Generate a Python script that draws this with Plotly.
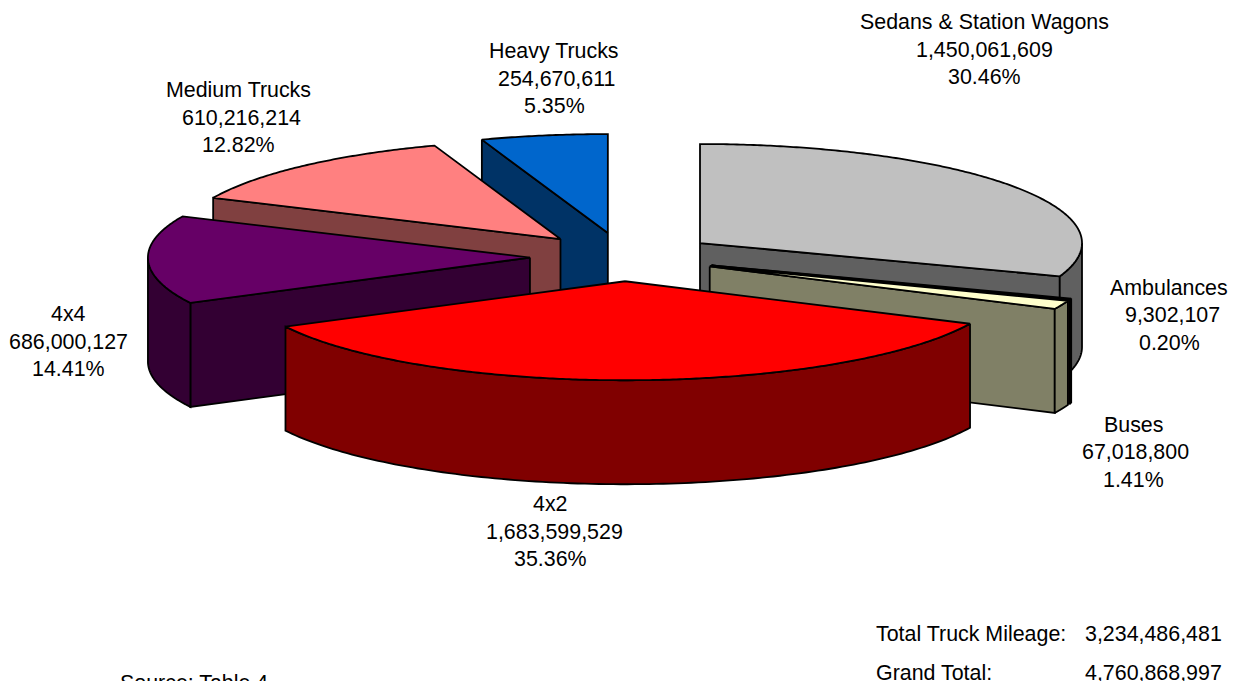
import numpy as np
import plotly.graph_objects as go

# ---- data ----
categories = ["Sedans & Station Wagons", "Ambulances", "Buses", "4x2", "4x4", "Medium Trucks", "Heavy Trucks"]
mileage = [1450061609, 9302107, 67018800, 1683599529, 686000127, 610216214, 254670611]
value_labels = ["1,450,061,609", "9,302,107", "67,018,800", "1,683,599,529", "686,000,127", "610,216,214", "254,670,611"]
percent_labels = ["30.46%", "0.20%", "1.41%", "35.36%", "14.41%", "12.82%", "5.35%"]
top_colors = ["#C0C0C0", "#993366", "#FFFFCC", "#FF0000", "#660066", "#FF8080", "#0066CC"]
side_colors = ["#606060", "#4D1A33", "#808066", "#800000", "#330033", "#804040", "#003366"]
label_centres = [(984, 22), (1169, 288), (1133, 425), (550, 504), (68, 314), (238, 90), (554, 51)]
value_shift = [0, 3, 2, 4, 0, 3, 2]
draw_order = [6, 5, 4, 0, 1, 2, 3]
summary_rows = [("Total Truck Mileage:", "3,234,486,481", 633.5), ("Grand Total:", "4,760,868,997", 673)]

# ---- projection of the tilted pie ----
CX, CY, A, B, DEPTH, EXPLODE = 623.5, 257.0, 382.0, 99.0, 104.0, 0.245
LINE = 1.8
FONT = dict(family="Liberation Sans, Arial, sans-serif", size=21.4, color="black")

shares = np.array(mileage) / np.sum(mileage) * 360.0
ends = np.cumsum(shares)
starts = ends - shares

fig = go.Figure()


def poly(xs, ys, color):
    fig.add_trace(go.Scatter(
        x=np.append(xs, xs[0]), y=np.append(ys, ys[0]), mode="lines", fill="toself",
        fillcolor=color, line=dict(color="black", width=LINE, simplify=False),
        hoverinfo="skip", showlegend=False))


def rim(ax, ay, deg):
    t = np.radians(deg)
    return ax + A * np.sin(t), ay - B * np.cos(t)


for i in draw_order:
    s, e = starts[i], ends[i]
    mid = np.radians((s + e) / 2)
    ax = CX + EXPLODE * A * np.sin(mid)
    ay = CY - EXPLODE * B * np.cos(mid)
    # visible cut faces
    for edge, visible in ((s, 180 < s < 360), (e, 0 < e < 180)):
        if visible:
            rx, ry = rim(ax, ay, edge)
            poly(np.array([ax, rx, rx, ax]), np.array([ay, ry, ry + DEPTH, ay + DEPTH]), side_colors[i])
    # visible outer wall
    lo, hi = max(s, 90), min(e, 270)
    if hi > lo:
        arc = np.linspace(lo, hi, 120)
        rx, ry = rim(ax, ay, arc)
        poly(np.concatenate([rx, rx[::-1]]), np.concatenate([ry, ry[::-1] + DEPTH]), side_colors[i])
    # top surface
    arc = np.linspace(s, e, max(int(e - s) * 2, 6))
    rx, ry = rim(ax, ay, arc)
    poly(np.concatenate([[ax], rx]), np.concatenate([[ay], ry]), top_colors[i])


def text(s, x, y, anchor="center"):
    fig.add_annotation(x=x / 1233, y=1 - y / 681, xref="paper", yref="paper", text=s, showarrow=False,
                       xanchor=anchor, yanchor="middle", font=FONT, borderpad=0, borderwidth=0)


for name, val, pct, (x, y), dx in zip(categories, value_labels, percent_labels, label_centres, value_shift):
    text(name, x, y)
    text(val, x + dx, y + 27.5)
    text(pct, x, y + 55)

for name, val, y in summary_rows:
    text(name, 876, y, "left")
    text(val, 1085, y, "left")
text("Source: Table 4", 120, 683, "left")

fig.update_layout(
    width=1233, height=681, margin=dict(l=0, r=0, t=0, b=0),
    paper_bgcolor="white", plot_bgcolor="white", showlegend=False,
    xaxis=dict(range=[0, 1233], visible=False, fixedrange=True),
    yaxis=dict(range=[681, 0], visible=False, fixedrange=True),
)
fig.write_html("out.html", config=dict(displayModeBar=False),
               post_script="document.body.style.margin='0';document.body.style.overflow='hidden';")
